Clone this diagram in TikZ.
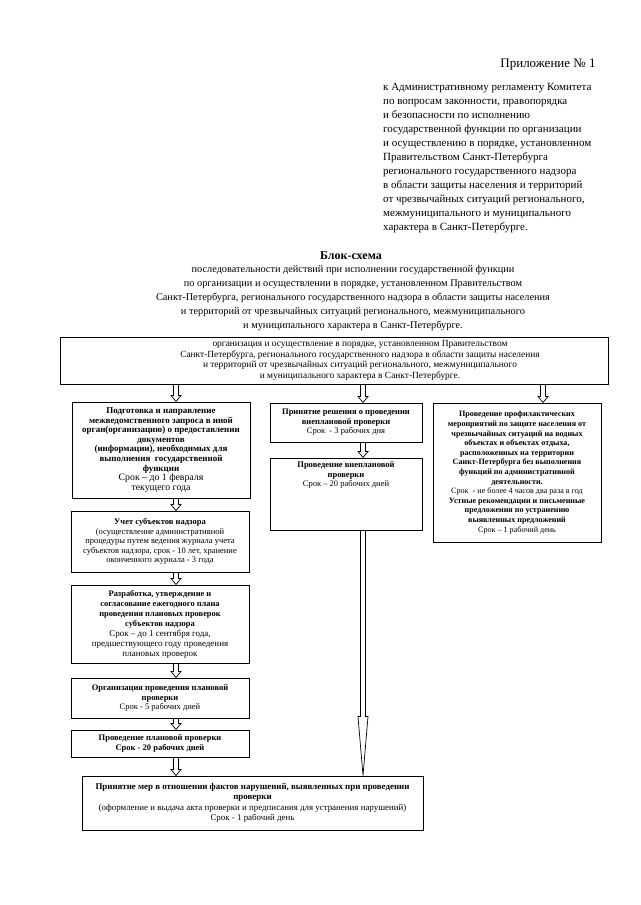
\documentclass[tikz,border=0pt]{standalone}
\usepackage{fontspec}
\setmainfont{Liberation Serif}
\usepackage{tikz}
\usetikzlibrary{calc, positioning}

\newcommand{\boxfont}{\fontsize{8.5}{9.6}\selectfont\bfseries}
% двойная стрелка: [длина головки]{откуда}{куда}
\newcommand{\dblarrow}[3][6]{%
  \path (#2) coordinate (ta) (#3) coordinate (tb);
  \draw[line width=0.7pt, line join=miter] ($(ta)+(-2.5,0)$) -- ($(tb)+(-2.5,-#1)$) -- ($(tb)+(-5,-#1)$) -- (tb)
    -- ($(tb)+(5,-#1)$) -- ($(tb)+(2.5,-#1)$) -- ($(ta)+(2.5,0)$);
}

\begin{document}
\begin{tikzpicture}[x=1pt, y=-1pt,
    box/.style={draw, line width=1pt, align=center, inner sep=2pt, font=\boxfont},
    lbox/.style={box, minimum width=178},
    smalltext/.style={font=\fontsize{8.1}{9.6}\selectfont\bfseries}]
    \useasboundingbox (0,0) rectangle (640,905);

    % шапка
    \node[font=\fontsize{13}{15}\selectfont] (pril) at (548,65) {Приложение № 1};
    \node[anchor=north west, align=left, inner sep=0, font=\fontsize{11}{14}\selectfont] (adres) at (383,83) {к Административному регламенту Комитета\\ по вопросам законности, правопорядка\\ и безопасности по исполнению\\ государственной функции по организации\\ и осуществлению в порядке, установленном\\ Правительством Санкт-Петербурга\\ регионального государственного надзора\\ в области защиты населения и территорий\\ от чрезвычайных ситуаций регионального,\\ межмуниципального и муниципального\\ характера в Санкт-Петербурге.};

    \node[font=\bfseries\fontsize{12}{14}\selectfont] (bs) at (351,256) {Блок-схема};
    \node[align=center, font=\fontsize{10.3}{14}\selectfont] (podz) at (353,298) {последовательности действий при исполнении государственной функции\\ по организации и осуществлении в порядке, установленном Правительством\\ Санкт-Петербурга, регионального государственного надзора в области защиты населения\\ и территорий от чрезвычайных ситуаций регионального, межмуниципального\\ и муниципального характера в Санкт-Петербурге.};

    % верхний блок
    \node[draw, line width=1pt, minimum width=548, minimum height=47, label={[align=center, font=\fontsize{9.4}{10.5}\selectfont\mdseries, xshift=26]center:{организация и осуществление в порядке, установленном Правительством\\ Санкт-Петербурга, регионального государственного надзора в области защиты населения\\ и территорий от чрезвычайных ситуаций регионального, межмуниципального\\ и муниципального характера в Санкт-Петербурге.}}] (top) at (334,360.5) {};

    % левая колонка
    \node[lbox, font=\fontsize{9}{9.6}\selectfont\bfseries, minimum height=96] (l1) at (161,450) {Подготовка и направление\\ межведомственного запроса в иной\\ орган(организацию) о предоставлении\\ документов\\ (информации), необходимых для\\ выполнения~~государственной\\ функции\\ {\fontsize{9.8}{9.6}\selectfont\mdseries Срок – до 1 февраля}\\ {\fontsize{9.8}{9.6}\selectfont\mdseries текущего года}};
    \node[lbox, minimum height=61] (l2) at (160,541.5) {Учет субъектов надзора\\ \textmd{(осуществление административной}\\ \textmd{процедуры путем ведения журнала учета}\\ \textmd{субъектов надзора, срок - 10 лет, хранение}\\ \textmd{оконченного журнала - 3 года}};
    \node[lbox, font=\fontsize{8.4}{10}\selectfont\bfseries, minimum height=78] (l3) at (160,624) {Разработка, утверждение и\\ согласование ежегодного плана\\ проведения плановых проверок\\ субъектов надзора\\ {\fontsize{9}{10}\selectfont\mdseries Срок – до 1 сентября года,}\\ {\fontsize{9}{10}\selectfont\mdseries предшествующего году проведения}\\ {\fontsize{9}{10}\selectfont\mdseries плановых проверок}};
    \node[lbox, minimum height=40] (l4) at (160,698) {Организация проведения плановой\\ проверки\\ \textmd{Срок - 5 рабочих дней}};
    \node[lbox, minimum height=27] (l5) at (160,743.5) {Проведение плановой проверки\\ Срок - 20 рабочих дней};

    % средняя колонка
    \node[box, minimum width=152, minimum height=39] (m1) at (346,422.5) {Принятие решения о проведении\\ внеплановой проверки\\ \textmd{Срок~~- 3 рабочих дня}};
    \node[box, minimum width=152, minimum height=72] (m2) at (346,494) {Проведение внеплановой\\ проверки\\ \textmd{Срок – 20 рабочих дней}\\[30pt]\mbox{}};

    % правая колонка
    \node[box, smalltext, minimum width=168, minimum height=139] (r) at (517,472.5) {Проведение профилактических\\ мероприятий по защите населения от\\ чрезвычайных ситуаций на водных\\ объектах и объектах отдыха,\\ расположенных на территории\\ Санкт-Петербурга без выполнения\\ функций по административной\\ деятельности.\\ \textmd{Срок~~- не более 4 часов два раза в год}\\ Устные рекомендации и письменные\\ предложения по устранению\\ выявленных предложений\\ \textmd{Срок – 1 рабочий день}};

    % нижний блок
    \node[box, font=\fontsize{8.9}{10.5}\selectfont\bfseries, minimum width=341, minimum height=54] (b) at (252.5,803) {Принятие мер в отношении фактов нарушений, выявленных при проведении\\ проверки\\ \textmd{(оформление и выдача акта проверки и предписания для устранения нарушений)}\\ \textmd{Срок - 1 рабочий день}};

    % стрелки
    \coordinate (lcol) at (176,0);
    \coordinate (mcol) at (363,0);
    \coordinate (rcol) at (543,0);
    \dblarrow{top.south -| lcol}{l1.north -| lcol}
    \dblarrow{top.south -| mcol}{m1.north -| mcol}
    \dblarrow{top.south -| rcol}{r.north -| rcol}
    \dblarrow{l1.south -| lcol}{l2.north -| lcol}
    \dblarrow{l2.south -| lcol}{l3.north -| lcol}
    \dblarrow{l3.south -| lcol}{l4.north -| lcol}
    \dblarrow{l4.south -| lcol}{l5.north -| lcol}
    \dblarrow{l5.south -| lcol}{b.north -| lcol}
    \dblarrow{m1.south -| mcol}{m2.north -| mcol}
    \dblarrow[59]{m2.south -| mcol}{b.north -| mcol}
\end{tikzpicture}
\end{document}
